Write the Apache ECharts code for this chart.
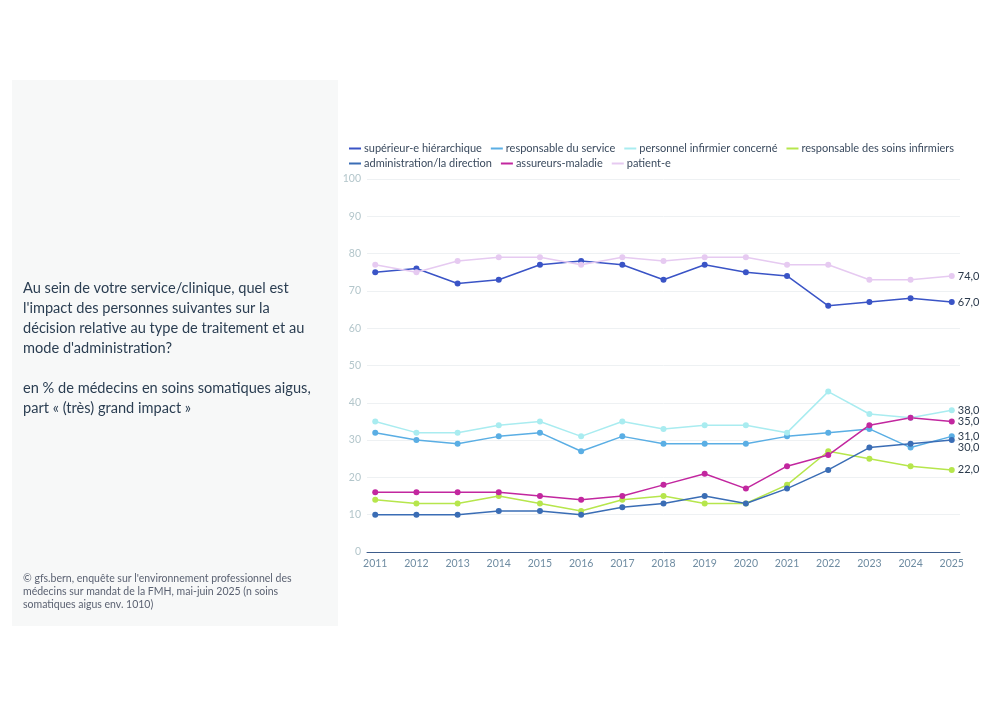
<!DOCTYPE html>
<html>
<head>
<meta charset="utf-8">
<script src="https://cdn.jsdelivr.net/npm/echarts@6/dist/echarts.min.js"></script>
<style>
  html, body { margin: 0; padding: 0; background: #ffffff; }
  #chart { width: 1000px; height: 706px; }
</style>
</head>
<body>
<div id="chart"></div>
<script>
// années
const years = [2011, 2012, 2013, 2014, 2015, 2016, 2017, 2018, 2019, 2020, 2021, 2022, 2023, 2024, 2025];
const yTicks = [0, 10, 20, 30, 40, 50, 60, 70, 80, 90, 100];

// séries (en %)
const superieur = [75, 76, 72, 73, 77, 78, 77, 73, 77, 75, 74, 66, 67, 68, 67];
const responsableService = [32, 30, 29, 31, 32, 27, 31, 29, 29, 29, 31, 32, 33, 28, 31];
const personnelInfirmier = [35, 32, 32, 34, 35, 31, 35, 33, 34, 34, 32, 43, 37, 36, 38];
const responsableSoins = [14, 13, 13, 15, 13, 11, 14, 15, 13, 13, 18, 27, 25, 23, 22];
const administration = [10, 10, 10, 11, 11, 10, 12, 13, 15, 13, 17, 22, 28, 29, 30];
const assureurs = [16, 16, 16, 16, 15, 14, 15, 18, 21, 17, 23, 26, 34, 36, 35];
const patient = [77, 75, 78, 79, 79, 77, 79, 78, 79, 79, 77, 77, 73, 73, 74];

const seriesDefs = [
  { name: 'supérieur-e hiérarchique', data: superieur, color: '#3a54c6' },
  { name: 'responsable du service', data: responsableService, color: '#5aaee4' },
  { name: 'personnel infirmier concerné', data: personnelInfirmier, color: '#a9ecf0' },
  { name: 'responsable des soins infirmiers', data: responsableSoins, color: '#b6e64c' },
  { name: 'administration/la direction', data: administration, color: '#3a6db5' },
  { name: 'assureurs-maladie', data: assureurs, color: '#c2279f' },
  { name: 'patient-e', data: patient, color: '#e6caf1' }
];

const font = 'Lato, "Noto Sans", sans-serif';

const legendBase = {
  itemWidth: 12,
  itemHeight: 2,
  itemGap: 9,
  icon: 'rect',
  textStyle: { fontSize: 11, color: '#3a4a5e', padding: [0, 0, 0, -2] }
};

var myChart = echarts.init(document.getElementById('chart'));

myChart.setOption({
  animation: false,
  textStyle: { fontFamily: font },
  graphic: [
    {
      type: 'rect',
      shape: { x: 12, y: 80, width: 326, height: 546 },
      style: { fill: '#f7f8f8' },
      silent: true
    },
    {
      type: 'text',
      left: 23,
      top: 278,
      style: {
        text: "Au sein de votre service/clinique, quel est\nl'impact des personnes suivantes sur la\ndécision relative au type de traitement et au\nmode d'administration?\n\nen % de médecins en soins somatiques aigus,\npart « (très) grand impact »",
        font: '14.6px ' + font,
        lineHeight: 20,
        fill: '#2b3e52'
      }
    },
    {
      type: 'text',
      left: 23,
      top: 572,
      style: {
        text: "© gfs.bern, enquête sur l'environnement professionnel des\nmédecins sur mandat de la FMH, mai-juin 2025 (n soins\nsomatiques aigus env. 1010)",
        font: '10.5px ' + font,
        lineHeight: 13,
        fill: '#5b6272'
      }
    }
  ],
  legend: [
    Object.assign({ left: 344, top: 138, data: seriesDefs.slice(0, 4).map(s => s.name) }, legendBase),
    Object.assign({ left: 344, top: 153, data: seriesDefs.slice(4).map(s => s.name) }, legendBase)
  ],
  grid: { left: 367, right: 40, top: 179, bottom: 154 },
  xAxis: {
    type: 'value',
    min: 2010.8,
    max: 2025.2,
    axisLine: { show: true, lineStyle: { color: '#3d5d8c', width: 1 } },
    axisTick: { show: false },
    splitLine: { show: false },
    axisLabel: {
      customValues: years,
      formatter: v => String(v),
      color: '#6f8ca2',
      fontSize: 10.5,
      margin: 6
    }
  },
  yAxis: {
    type: 'value',
    min: 0,
    max: 100,
    interval: 10,
    axisLine: { show: false },
    axisTick: { show: false },
    splitLine: { lineStyle: { color: '#eef1f3' } },
    axisLabel: {
      customValues: yTicks,
      color: '#b3c6cb',
      fontSize: 10.5,
      margin: 6
    }
  },
  series: seriesDefs.map(s => ({
    name: s.name,
    type: 'line',
    data: s.data.map((v, i) => [years[i], v]),
    color: s.color,
    symbol: 'circle',
    symbolSize: 6,
    lineStyle: { width: 1.5 },
    endLabel: {
      show: true,
      distance: 6,
      color: '#2b3a4c',
      fontSize: 11,
      formatter: p => p.value[1].toFixed(1).replace('.', ',')
    },
    labelLayout: { moveOverlap: 'shiftY' }
  }))
});
</script>
</body>
</html>
